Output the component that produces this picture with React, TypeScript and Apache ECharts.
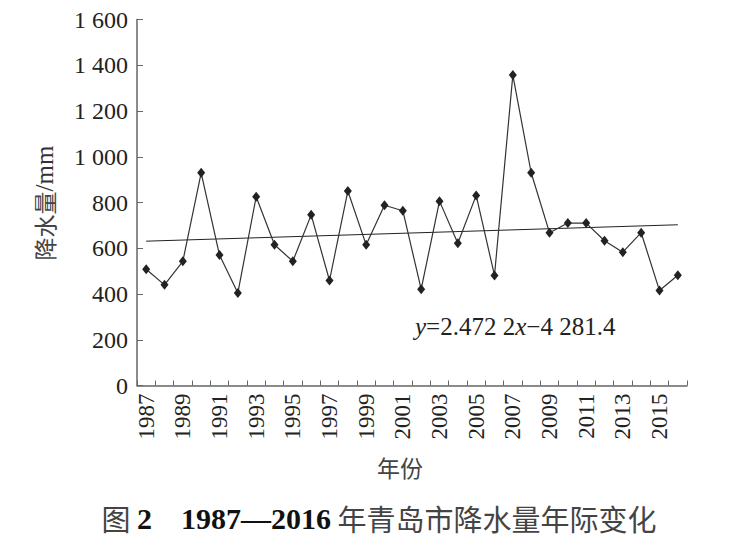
import React, { useEffect, useRef } from "react";
import * as echarts from "echarts";

const years = [
  "1987", "1988", "1989", "1990", "1991", "1992", "1993", "1994", "1995", "1996",
  "1997", "1998", "1999", "2000", "2001", "2002", "2003", "2004", "2005", "2006",
  "2007", "2008", "2009", "2010", "2011", "2012", "2013", "2014", "2015", "2016",
];
const precipitation = [
  508, 440, 543, 930, 570, 404, 825, 615, 543, 746,
  459, 850, 615, 788, 764, 421, 806, 622, 831, 481,
  1357, 930, 668, 710, 710, 633, 583, 668, 415, 482,
];
const trendSlope = 2.4722;
const trendIntercept = -4281.4;
const yTicks = [0, 200, 400, 600, 800, 1000, 1200, 1400, 1600];

const SERIF = '"Liberation Serif", "DejaVu Serif", serif';
const CJK = '"Noto Sans CJK SC", "Noto Sans", sans-serif';

function fmtY(v: number): string {
  if (v >= 1000) {
    const th = Math.floor(v / 1000);
    const rest = String(v % 1000).padStart(3, "0");
    return th + " " + rest;
  }
  return String(v);
}

export default function App() {
  const ref = useRef<HTMLDivElement>(null);
  useEffect(() => {
    document.body.style.margin = "0";
    if (!ref.current) return;
    const chart = echarts.init(ref.current, null, { renderer: "svg" });
    const last = years.length - 1;
    const trend = years.map((y, i) =>
      i === 0 || i === last ? +(trendSlope * Number(y) + trendIntercept).toFixed(1) : null
    );
    chart.setOption({
      animation: false,
      backgroundColor: "#ffffff",
      grid: { left: 137, right: 63, top: 19.5, bottom: 153.5, containLabel: false },
      xAxis: {
        type: "category",
        data: years,
        boundaryGap: true,
        axisLine: { show: true, lineStyle: { color: "#666", width: 1.5 } },
        axisTick: { show: true, inside: true, length: 5, interval: 0, lineStyle: { color: "#666", width: 1 } },
        axisLabel: {
          interval: 1,
          rotate: 90,
          margin: 8,
          fontFamily: SERIF,
          fontSize: 23,
          color: "#222",
        },
        splitLine: { show: false },
      },
      yAxis: {
        type: "value",
        min: yTicks[0],
        max: yTicks[yTicks.length - 1],
        interval: 200,
        axisLine: { show: true, lineStyle: { color: "#666", width: 1.5 } },
        axisTick: { show: true, inside: true, length: 6, lineStyle: { color: "#666", width: 1 } },
        axisLabel: {
          margin: 9,
          fontFamily: SERIF,
          fontSize: 24,
          color: "#222",
          formatter: (v: number) => fmtY(v),
        },
        splitLine: { show: false },
      },
      series: [
        {
          type: "line",
          data: precipitation,
          symbol: "diamond",
          symbolSize: [8, 10],
          itemStyle: { color: "#222" },
          lineStyle: { color: "#333", width: 1.2 },
          z: 3,
        },
        {
          type: "line",
          data: trend,
          connectNulls: true,
          symbol: "none",
          lineStyle: { color: "#222", width: 1 },
          z: 2,
        },
      ],
      graphic: [
        {
          type: "text",
          x: 44,
          y: 203,
          rotation: Math.PI / 2,
          style: {
            text: "{c|降水量}{s|/mm}",
            align: "center",
            verticalAlign: "middle",
            rich: {
              c: { fontFamily: CJK, fontSize: 23, fill: "#444" },
              s: { fontFamily: SERIF, fontSize: 25, fill: "#333" },
            },
          },
        },
        {
          type: "text",
          x: 400,
          y: 467,
          style: {
            text: "年份",
            font: `23px ${CJK}`,
            fill: "#444",
            align: "center",
            verticalAlign: "middle",
          },
        },
        {
          type: "text",
          x: 415,
          y: 326,
          style: {
            text: "{i|y}{n|=2.472 2}{i|x}{n|−4 281.4}",
            align: "left",
            verticalAlign: "middle",
            rich: {
              i: { fontFamily: SERIF, fontStyle: "italic", fontSize: 25, fill: "#222" },
              n: { fontFamily: SERIF, fontSize: 25, fill: "#222" },
            },
          },
        },
        {
          type: "text",
          x: 379,
          y: 518,
          style: {
            text: "{c|图 }{b|2}{c|　}{b|1987—2016}{c| 年青岛市降水量年际变化}",
            align: "center",
            verticalAlign: "middle",
            rich: {
              c: { fontFamily: CJK, fontSize: 29, fill: "#444" },
              b: { fontFamily: SERIF, fontWeight: "bold", fontSize: 30, fill: "#111" },
            },
          },
        },
      ],
    });
    return () => chart.dispose();
  }, []);
  return <div ref={ref} style={{ width: 750, height: 539 }} />;
}
